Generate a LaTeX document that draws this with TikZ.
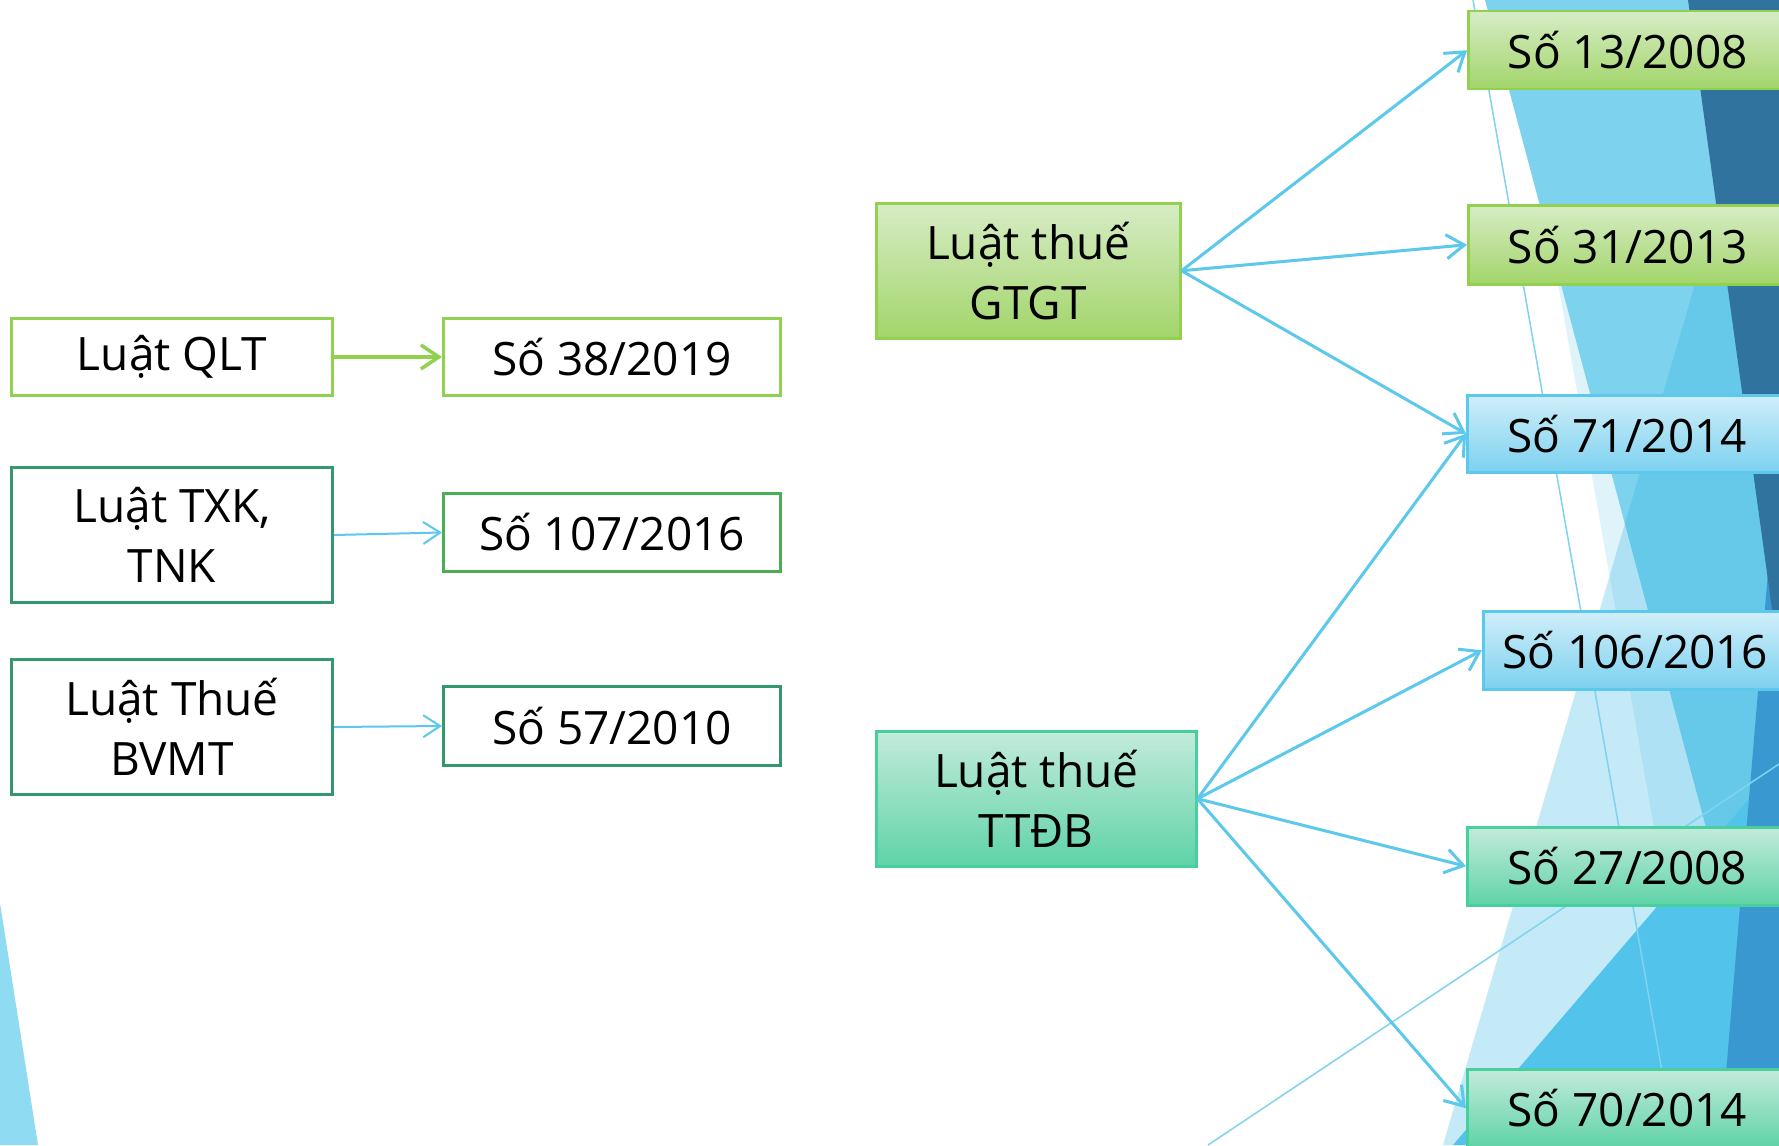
\documentclass[tikz,border=0pt]{standalone}
\usepackage{fontspec}
\setmainfont{Open Sans}
\usetikzlibrary{arrows.meta}

% palette
\definecolor{lime}{HTML}{92D050}
\definecolor{tealline}{HTML}{34986E}
\definecolor{greenline}{HTML}{4AAE55}
\definecolor{sky}{HTML}{5BC8EC}
\definecolor{mint}{HTML}{47D09E}
\definecolor{limetop}{HTML}{D7ECC5}
\definecolor{limebot}{HTML}{A2D56A}
\definecolor{minttop}{HTML}{C3EBDB}
\definecolor{mintbot}{HTML}{5FD3A8}
\definecolor{skytop}{HTML}{D0EEF9}
\definecolor{skybot}{HTML}{7CD1F0}
% facet decoration
\definecolor{facetpale}{HTML}{DFF3FA}
\definecolor{facetmid}{HTML}{7DD3EE}
\definecolor{facetglass}{HTML}{28B1E2}
\definecolor{facetmed}{HTML}{52C3EA}
\definecolor{facetblue}{HTML}{3A98D0}
\definecolor{facetdark}{HTML}{31739F}
\definecolor{facetcorner}{HTML}{8FDCF2}
\definecolor{facetline}{HTML}{7FD3EF}

\tikzset{
  label text/.style={font=\fontsize{46}{60}\selectfont, align=center, inner sep=0pt, text=black},
  plainbox/.style={label text, anchor=north west, fill=white, line width=3pt},
  gradbox/.style={label text, anchor=north west, line width=2.5pt},
  limebox/.style={gradbox, draw=lime, top color=limetop, bottom color=limebot},
  mintbox/.style={gradbox, draw=mint, top color=minttop, bottom color=mintbot},
  skybox/.style={gradbox, draw=sky, top color=skytop, bottom color=skybot},
  link/.style={draw=sky, line width=3pt, -{Straight Barb[length=18pt,width=24pt]}},
  thinlink/.style={draw=sky, line width=2pt, -{Straight Barb[length=17pt,width=22pt]}},
  limelink/.style={draw=lime, line width=3.5pt, -{Straight Barb[length=18pt,width=24pt]}},
  facetrule/.style={draw=facetline, line width=1.5pt}
}

\begin{document}
\begin{tikzpicture}[x=1pt,y=-1pt]
\useasboundingbox (0,0) rectangle (1779,1145);
\begin{scope}
\clip (0,0) rectangle (1779,1145);
\fill[white] (0,0) rectangle (1779,1145);

% facet decoration on the right edge
\fill[facetpale] (1508,0) -- (1779,0) -- (1779,1145) -- (1710,1145) -- cycle;
\fill[facetmid] (1485,0) -- (1779,0) -- (1779,1101) -- cycle;
\fill[facetglass, fill opacity=0.27] (1717,209) -- (1443,1145) -- (1779,1145) -- (1779,380) -- cycle;
\fill[facetmed] (1779,764) -- (1779,1145) -- (1453,1145) -- cycle;
\fill[facetblue] (1779,440) -- (1720,1145) -- (1779,1145) -- cycle;
\fill[facetdark] (1688,0) -- (1779,0) -- (1779,660) -- cycle;
\draw[facetrule] (1473,0) -- (1675,1145);
\draw[facetrule] (1208,1145) -- (1779,764);
% corner facet at the lower left
\fill[facetcorner] (0,903) -- (38,1145) -- (0,1145) -- cycle;

% left column
\node[plainbox, draw=lime, minimum width=321pt, minimum height=77pt] (qlt) at (10,317) {Luật QLT};
\node[plainbox, draw=lime, minimum width=337pt, minimum height=77pt] (s38) at (442,317) {Số 38/2019};
\node[plainbox, draw=tealline, minimum width=321pt, minimum height=135pt] (txk) at (10,466) {Luật TXK,\\TNK};
\node[plainbox, draw=greenline, minimum width=337pt, minimum height=78pt] (s107) at (442,492) {Số 107/2016};
\node[plainbox, draw=tealline, minimum width=321pt, minimum height=135pt] (bvmt) at (10,658) {Luật Thuế\\BVMT};
\node[plainbox, draw=tealline, minimum width=337pt, minimum height=79pt] (s57) at (442,685) {Số 57/2010};

\draw[limelink] (qlt.east) -- (s38.west);
\draw[thinlink] (txk.east) -- (s107.west);
\draw[thinlink] (bvmt.east) -- (s57.west);

% middle column
\node[limebox, minimum width=304pt, minimum height=135pt] (gtgt) at (875,202) {Luật thuế\\GTGT};
\node[mintbox, minimum width=320pt, minimum height=135pt] (ttdb) at (875,730) {Luật thuế\\TTĐB};

% right column
\node[limebox, minimum width=319pt, minimum height=78pt] (s13) at (1467,10) {Số 13/2008};
\node[limebox, minimum width=319pt, minimum height=79pt] (s31) at (1467,204) {Số 31/2013};
\node[skybox, minimum width=320pt, minimum height=77pt] (s71) at (1466,394) {Số 71/2014};
\node[skybox, minimum width=304pt, minimum height=78pt] (s106) at (1482,610) {Số 106/2016};
\node[mintbox, minimum width=320pt, minimum height=78pt] (s27) at (1466,826) {Số 27/2008};
\node[mintbox, minimum width=320pt, minimum height=78pt] (s70) at (1466,1068) {Số 70/2014};

\draw[link] (gtgt.east) -- (s13.west);
\draw[link] (gtgt.east) -- (s31.west);
\draw[link] (gtgt.east) -- (s71.west);
\draw[link] (ttdb.east) -- (s71.west);
\draw[link] (ttdb.east) -- (s106.west);
\draw[link] (ttdb.east) -- (s27.west);
\draw[link] (ttdb.east) -- (s70.west);
\end{scope}
\end{tikzpicture}
\end{document}
